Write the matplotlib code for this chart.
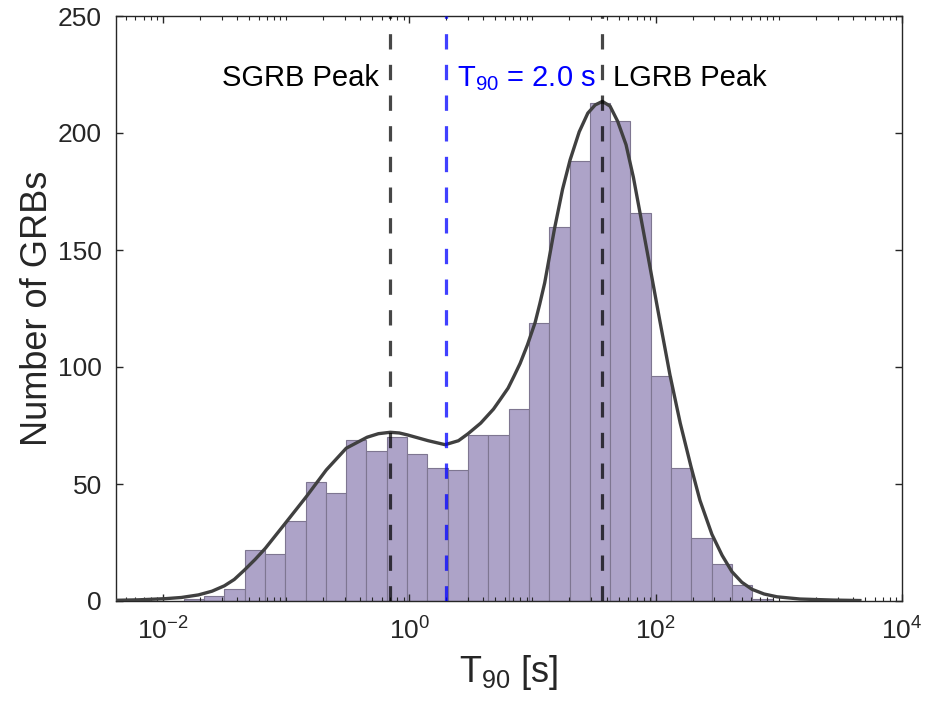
import numpy as np
import matplotlib
matplotlib.use('Agg')
import matplotlib.pyplot as plt
from matplotlib.ticker import FixedLocator, LogFormatterMathtext, NullFormatter

plt.rcParams['font.family'] = 'Liberation Sans'
plt.rcParams['mathtext.fontset'] = 'custom'
plt.rcParams['mathtext.rm'] = 'Liberation Sans'
plt.rcParams['mathtext.it'] = 'Liberation Sans:italic'
plt.rcParams['mathtext.bf'] = 'Liberation Sans:bold'

# T90 histogram, equal bins in log10(T90)
log_first_edge = -1.83
log_bin_width = 0.1648
counts = [1, 2, 5, 22, 20, 34, 51, 46, 69, 64, 70, 63, 57, 56, 71, 71, 82,
          119, 160, 188, 213, 205, 166, 96, 57, 27, 16, 7, 1]

# fitted curve (log10 of T90 in s, number of GRBs)
curve_log_t = [-2.376, -2.2, -1.979, -1.85, -1.711, -1.6, -1.5, -1.42,
               -1.338, -1.25, -1.168, -1.006, -0.835, -0.673, -0.511, -0.341,
               -0.25, -0.154, -0.08, -0.016, 0.154, 0.292, 0.40, 0.478,
               0.58, 0.684, 0.74, 0.803, 0.85, 0.90, 0.96, 1.022, 1.06,
               1.10, 1.179, 1.245, 1.306, 1.38, 1.45, 1.51, 1.568, 1.63,
               1.692, 1.76, 1.82, 1.873, 1.95, 2.03, 2.117, 2.20, 2.287,
               2.36, 2.457, 2.54, 2.62, 2.70, 2.782, 2.88, 2.985, 3.171,
               3.439, 3.658]
curve_n = [0.3, 0.5, 1.0, 1.5, 2.6, 4.2, 6.5, 9.2,
           13.2, 17.8, 22.5, 33.2, 44.6, 56, 65.3, 70,
           71.5, 72.1, 71.8, 71, 68.5, 66.8, 68.5, 71.5,
           76, 82, 86.2, 91, 96, 101.5, 109.5, 119, 127,
           136, 159, 176, 188.5, 200.5, 208.5, 212, 213.5, 211.5,
           205, 195, 181, 166, 144, 121, 96.5, 76, 57.5,
           43, 28.5, 19.5, 12.5, 8, 5, 3.0, 1.8, 0.85,
           0.4, 0.2]

sgrb_peak = 0.70
lgrb_peak = 36.6
t90_cut = 2.0

edges = 10 ** (log_first_edge + log_bin_width * np.arange(len(counts) + 1))
curve_t = 10 ** np.array(curve_log_t)

fig = plt.figure(figsize=(9.25, 7.17), dpi=100)
ax = fig.add_axes([116 / 925, 116 / 717, 786 / 925, 585 / 717])

ax.bar(edges[:-1], counts, width=np.diff(edges), align='edge',
       color='#ada3c8', edgecolor='#7e7691', linewidth=0.8, zorder=1)
ax.plot(curve_t, curve_n, color='#404040', lw=2.4, zorder=3,
        solid_joinstyle='round')

dash = (0, (4.8, 4.8))
ax.axvline(sgrb_peak, color='k', alpha=0.72, lw=2.3, ls=dash, zorder=4)
ax.axvline(lgrb_peak, color='k', alpha=0.72, lw=2.3, ls=dash, zorder=4)
ax.axvline(t90_cut, color='#0000ff', alpha=0.75, lw=2.3, ls=dash, zorder=4)

ax.annotate('SGRB Peak', xy=(sgrb_peak, 220), xytext=(-8, 0),
            textcoords='offset points', ha='right', va='baseline',
            fontsize=21, color='k')
ax.annotate('LGRB Peak', xy=(lgrb_peak, 220), xytext=(8, 0),
            textcoords='offset points', ha='left', va='baseline',
            fontsize=21, color='k')
ax.annotate(r'T$_{\mathrm{90}}$ = 2.0 s', xy=(t90_cut, 220), xytext=(8, 0),
            textcoords='offset points', ha='left', va='baseline',
            fontsize=21, color='#0000ff')

ax.set_xscale('log')
ax.set_xlim(0.00417, 1e4)
ax.set_ylim(0, 250)
ax.set_yticks([0, 50, 100, 150, 200, 250])

majors = [1e-2, 1e0, 1e2, 1e4]
minors = [k * 10.0 ** e for e in range(-3, 4) for k in range(1, 10)
          if k * 10.0 ** e not in majors]
ax.xaxis.set_major_locator(FixedLocator(majors))
ax.xaxis.set_major_formatter(LogFormatterMathtext())
ax.xaxis.set_minor_locator(FixedLocator(minors))
ax.xaxis.set_minor_formatter(NullFormatter())

axis_col = '#262626'
for s in ax.spines.values():
    s.set_color(axis_col)
    s.set_linewidth(1.0)
ax.tick_params(axis='both', which='both', direction='in', top=True,
               right=True, colors=axis_col, labelcolor=axis_col)
ax.tick_params(axis='both', which='major', length=5, width=1.0,
               labelsize=19, pad=10)
ax.tick_params(axis='x', which='minor', length=3, width=0.8)
ax.tick_params(axis='x', which='major', pad=12)

ax.set_xlabel(r'T$_{\mathrm{90}}$ [s]', fontsize=26, color=axis_col, labelpad=6)
ax.set_ylabel('Number of GRBs', fontsize=26, color=axis_col, labelpad=2)

fig.savefig('out.png', dpi=100)
